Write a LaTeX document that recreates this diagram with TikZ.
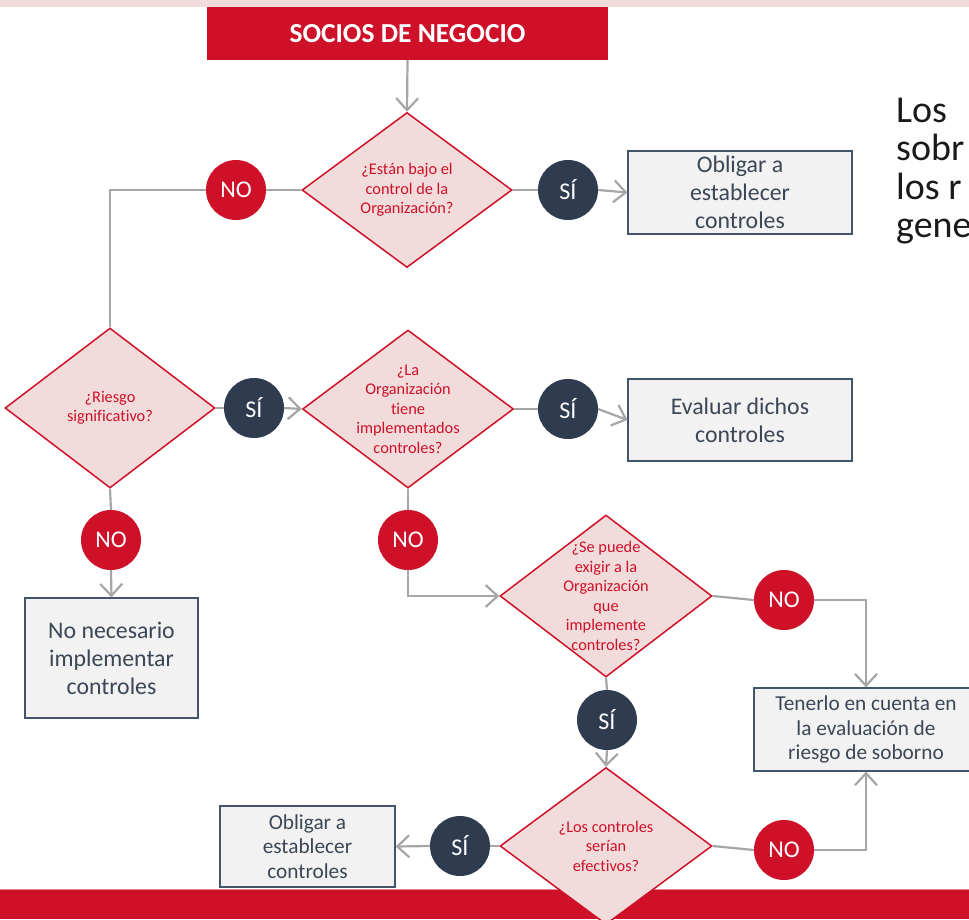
\documentclass[tikz,border=0pt]{standalone}
\usepackage{fontspec}
\setmainfont{Carlito}[Ligatures={NoCommon,NoRequired,NoContextual}]
\usetikzlibrary{shapes.geometric,arrows.meta}
\definecolor{brandred}{HTML}{CE1029}
\definecolor{pinkfill}{HTML}{F2DCDB}
\definecolor{navy}{HTML}{2F3C4F}
\definecolor{boxfill}{HTML}{F2F2F2}
\definecolor{boxline}{HTML}{44546A}
\definecolor{linegray}{HTML}{A6A6A6}
\definecolor{boxtext}{HTML}{3B4656}
\definecolor{bodytext}{HTML}{1A1A1A}

\begin{document}
\begin{tikzpicture}[x=1pt,y=-1pt,
  dia/.style={diamond, draw=brandred, fill=pinkfill, line width=1.5pt, inner sep=0pt},
  dtext/.style={text=brandred, font=\fontsize{16.3}{19.5}\selectfont, align=center, inner sep=0pt},
  nocirc/.style={circle, fill=brandred, text=white, minimum size=60pt, inner sep=0pt, font=\fontsize{24}{28}\selectfont},
  sicirc/.style={circle, fill=navy, text=white, minimum size=60pt, inner sep=0pt, font=\fontsize{24}{28}\selectfont},
  resbox/.style={rectangle, draw=boxline, fill=boxfill, line width=1.2pt, text=boxtext, align=center, inner sep=0pt},
  bigtxt/.style={font=\fontsize{23.8}{28}\selectfont},
  smalltxt/.style={font=\fontsize{21.3}{24.8}\selectfont},
  ln/.style={draw=linegray, line width=2.2pt},
  arr/.style={ln, -{Straight Barb[length=12pt,width=22pt,line width=2.2pt]}}
]
\useasboundingbox (0,0) rectangle (969,919);

% page bands
\fill[pinkfill] (0,0) rectangle (969,7);
\fill[brandred] (0,889) rectangle (969,919);
\draw[pinkfill!60!brandred, line width=1pt] (0,889.5) -- (969,889.5);

% title block
\node[rectangle, fill=brandred, text=white, minimum width=401pt, minimum height=53pt, inner sep=0pt,
      font=\fontsize{27.5}{30}\selectfont\bfseries] (title) at (407.5,33.5) {SOCIOS DE NEGOCIO};

% side text (runs past the right edge of the page)
\node[anchor=north west, text=bodytext, align=left, inner sep=0pt,
      font=\fontsize{38}{38.5}\selectfont] (side) at (896,97.5) {Los\\sobr\\los r\\gene};

% decisions
\node[dia, minimum width=210pt, minimum height=155pt] (d1) at (407,190) {};
\node[dtext] at (d1) {¿Están bajo el\\control de la\\Organización?};

\node[dia, minimum width=210pt, minimum height=160pt] (dr) at (110,408) {};
\node[dtext] at (dr) {¿Riesgo\\significativo?};

\node[dia, minimum width=211pt, minimum height=158pt] (d2) at (408,409) {};
\node[dtext] at (d2) {¿La\\Organización\\tiene\\implementados\\controles?};

\node[dia, minimum width=212pt, minimum height=162pt] (d3) at (606,596) {};
\node[dtext] at (d3) {¿Se puede\\exigir a la\\Organización\\que\\implemente\\controles?};

\node[dia, minimum width=212pt, minimum height=157pt] (d4) at (606,846) {};
\node[dtext] at (d4) {¿Los controles\\serían\\efectivos?};

% answer markers
\node[nocirc] (no1) at (236,190) {NO};
\node[sicirc] (si1) at (568,190) {SÍ};
\node[sicirc] (si2) at (254,408) {SÍ};
\node[sicirc] (si3) at (568,409) {SÍ};
\node[nocirc] (no2) at (111,540) {NO};
\node[nocirc] (no3) at (408,540) {NO};
\node[nocirc] (no4) at (784,600) {NO};
\node[sicirc] (si4) at (607,720) {SÍ};
\node[sicirc] (si5) at (460,846) {SÍ};
\node[nocirc] (no5) at (784,850) {NO};

% outcomes
\node[resbox, bigtxt, minimum width=224pt, minimum height=83pt] (b1) at (740,192.5) {Obligar a\\establecer\\controles};
\node[resbox, bigtxt, minimum width=224pt, minimum height=82pt] (b2) at (740,420) {Evaluar dichos\\controles};
\node[resbox, bigtxt, minimum width=173pt, minimum height=120pt] (b3) at (111.5,658) {No necesario\\implementar\\controles};
\node[resbox, smalltxt, minimum width=224pt, minimum height=83pt] (b4) at (866,729.5) {Tenerlo en cuenta en\\la evaluación de\\riesgo de soborno};
\node[resbox, smalltxt, minimum width=175pt, minimum height=81pt] (b5) at (307.5,846.5) {Obligar a\\establecer\\controles};

% connectors
\draw[arr] (title.south) -- (d1.north);
\draw[ln] (d1.west) -- (no1.east);
\draw[ln] (no1.west) -| (dr.north);
\draw[ln] (d1.east) -- (si1.west);
\draw[arr] (si1.east) -- (b1.west);

\draw[ln] (dr.east) -- (si2.west);
\draw[arr] (si2.east) -- (d2.west);
\draw[ln] (d2.east) -- (si3.west);
\draw[arr] (si3.east) -- (b2.west);

\draw[ln] (dr.south) -- (no2.north);
\draw[arr] (no2.south) -- (b3.north);

\draw[ln] (d2.south) -- (no3.north);
\draw[arr] (no3.south) |- (d3.west);

\draw[ln] (d3.east) -- (no4.west);
\draw[arr] (no4.east) -| (b4.north);

\draw[ln] (d3.south) -- (si4.north);
\draw[arr] (si4.south) -- (d4.north);

\draw[ln] (d4.west) -- (si5.east);
\draw[arr] (si5.west) -- (b5.east);

\draw[ln] (d4.east) -- (no5.west);
\draw[arr] (no5.east) -| (b4.south);
\end{tikzpicture}
\end{document}
